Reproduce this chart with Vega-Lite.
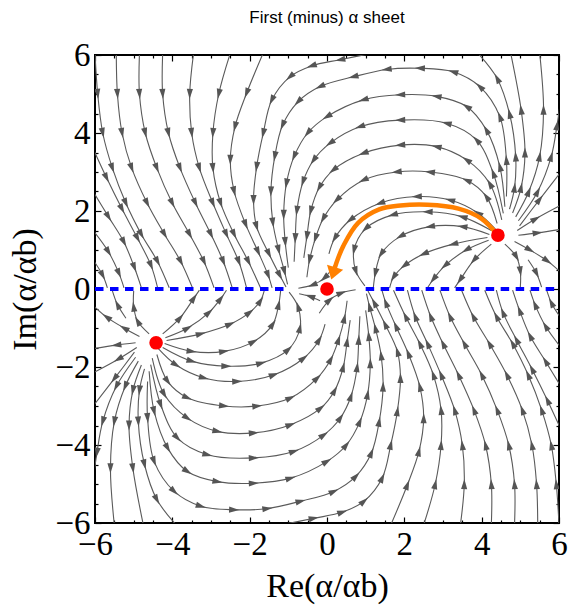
{
  "$schema": "https://vega.github.io/schema/vega-lite/v6.json",
  "width": 464,
  "height": 468,
  "autosize": {"type": "none"},
  "padding": {"left": 95, "top": 55, "right": 15, "bottom": 86},
  "config": {
    "view": {"stroke": "#000000", "strokeWidth": 2},
    "axis": {
      "grid": false, "domain": false,
      "labelFont": "Liberation Serif", "labelFontSize": 33, "labelColor": "#000000",
      "labelOverlap": false, "labelFlush": false,
      "titleFont": "Liberation Serif", "titleFontSize": 34, "titleFontWeight": "normal", "titleColor": "#000000",
      "tickColor": "#000000", "tickWidth": 1.2
    }
  },
  "title": {"text": "First (minus) α sheet", "font": "Liberation Sans", "fontSize": 17, "fontWeight": "normal", "color": "#000000", "offset": 12, "frame": "group", "anchor": "middle"},
  "datasets": {
    "streams": [
      {"id":"S1","xs":[4.25,3.5,2.6,1.7,1.0,0.7,0.75,0.98],"ys":[1.5,1.85,1.98,1.9,1.55,1.0,0.45,0.08]},
      {"id":"S2","xs":[4.2,3.5,2.66,1.9,1.4,1.25,1.2],"ys":[1.4,1.6,1.6,1.35,0.9,0.4,0.05]},
      {"id":"S3","xs":[4.15,3.26,2.5,2.0,1.72,1.62],"ys":[1.32,1.15,0.9,0.6,0.3,0.03]},
      {"id":"S3b","xs":[4.18,3.6,3.05,2.75,2.6],"ys":[1.25,1.0,0.6,0.25,0.03]},
      {"id":"S4","xs":[4.25,3.8,3.44,3.3],"ys":[1.15,0.74,0.23,0.03]},
      {"id":"S5","xs":[4.6,4.9,5.0,5.0],"ys":[1.15,0.82,0.45,0.05]},
      {"id":"S8","xs":[5.2,5.42,5.55],"ys":[0.75,0.4,0.05]},
      {"id":"S7","xs":[4.85,5.25,5.7,6.05],"ys":[1.22,1.0,0.72,0.42]},
      {"id":"S6","xs":[4.95,5.45,6.05],"ys":[1.38,1.44,1.53]},
      {"id":"S9","xs":[4.92,5.4,6.05],"ys":[1.5,1.8,2.15]},
      {"id":"S12","xs":[4.98,5.5,6.05],"ys":[1.62,2.3,3.0]},
      {"id":"S13","xs":[4.95,5.45,5.8,5.95,6.05],"ys":[1.75,2.5,3.4,4.2,4.9]},
      {"id":"S11","xs":[4.88,5.22,5.5,5.6,5.5],"ys":[1.85,2.5,3.4,4.6,6.05]},
      {"id":"S10b","xs":[4.8,5.02,5.12,5.02,4.75],"ys":[1.95,2.6,3.5,4.6,6.05]},
      {"id":"S10","xs":[4.72,4.85,4.88,4.72,4.4,3.9],"ys":[2.05,2.6,3.4,4.5,5.4,6.05]},
      {"id":"P56","xs":[4.64,4.64,4.47,3.95,3.26,2.4,1.54,0.68,-0.18,-0.75,-1.15,-1.35,-1.45,-1.4,-1.25,-1.1,-1.02],"ys":[2.37,3.31,4.42,5.19,5.57,5.66,5.63,5.44,5.19,4.8,4.2,3.4,2.5,1.7,1.0,0.45,0.12]},
      {"id":"P49","xs":[4.6,4.47,4.12,3.61,2.83,1.89,0.94,0.0,-0.5,-0.85,-1.05,-1.12,-1.08,-1.0],"ys":[2.11,3.14,4.08,4.68,4.94,4.98,4.85,4.42,4.0,3.4,2.7,1.9,1.2,0.55]},
      {"id":"P43","xs":[4.56,4.3,3.87,3.09,1.89,0.85,0.08,-0.35,-0.62,-0.78,-0.82,-0.85],"ys":[1.94,2.97,3.82,4.25,4.33,4.16,3.74,3.3,2.75,2.0,1.3,0.7]},
      {"id":"P36","xs":[4.52,4.21,3.61,2.83,1.89,0.94,0.16,-0.2,-0.42,-0.52,-0.6],"ys":[1.77,2.7,3.31,3.65,3.69,3.48,3.05,2.6,2.0,1.35,0.8]},
      {"id":"P30","xs":[4.4,4.12,3.61,2.66,1.8,0.94,0.25,-0.1,-0.3,-0.45,-0.52],"ys":[1.68,2.37,2.79,3.0,3.0,2.79,2.28,1.8,1.3,0.75,0.3]},
      {"id":"A1","xs":[4.38,3.9,3.18,2.32,1.37,0.6,0.2,0.05],"ys":[1.51,1.95,2.28,2.37,2.2,1.77,1.3,0.9]},
      {"id":"TL0","xs":[1.2,0.34,-0.4,-0.96,-1.43,-1.65,-1.82,-1.9,-1.82,-1.5,-1.22,-1.06],"ys":[6.05,5.88,5.72,5.44,4.84,3.99,3.13,2.28,1.6,0.9,0.35,0.05]},
      {"id":"TLg","xs":[-1.65,-2.08,-2.38,-2.5,-2.4,-2.1,-1.78,-1.52,-1.42],"ys":[6.05,5.02,4.16,3.31,2.5,1.65,0.95,0.35,0.03]},
      {"id":"TLf","xs":[-2.5,-2.8,-2.95,-2.95,-2.75,-2.4,-2.03,-1.72],"ys":[6.05,5.0,4.0,3.1,2.2,1.4,0.7,0.03]},
      {"id":"TLe","xs":[-3.45,-3.55,-3.5,-3.3,-2.95,-2.6,-2.28,-2.08],"ys":[6.05,5.0,4.0,3.1,2.2,1.4,0.7,0.03]},
      {"id":"TLd","xs":[-4.25,-4.25,-4.1,-3.8,-3.4,-3.0,-2.68,-2.45],"ys":[6.05,5.0,4.0,3.1,2.2,1.4,0.7,0.03]},
      {"id":"TLc","xs":[-4.85,-4.85,-4.7,-4.4,-4.0,-3.55,-3.18,-2.92],"ys":[6.05,5.0,4.0,3.1,2.2,1.4,0.7,0.03]},
      {"id":"TLb","xs":[-5.45,-5.42,-5.3,-5.05,-4.65,-4.2,-3.78,-3.48],"ys":[6.05,5.0,4.0,3.1,2.2,1.4,0.7,0.03]},
      {"id":"TLa","xs":[-6.0,-5.93,-5.8,-5.55,-5.2,-4.8,-4.38,-4.08],"ys":[6.05,5.0,4.0,3.1,2.2,1.4,0.7,0.03]},
      {"id":"LE0","xs":[-6.05,-5.7,-5.3,-4.9,-4.55,-4.38],"ys":[3.6,2.85,2.05,1.3,0.6,0.03]},
      {"id":"LE1","xs":[-6.05,-5.65,-5.25,-4.98,-4.8],"ys":[2.5,1.85,1.2,0.55,0.03]},
      {"id":"LE2","xs":[-6.05,-5.65,-5.38,-5.25],"ys":[1.5,0.95,0.4,0.03]},
      {"id":"LE3","xs":[-6.05,-5.8,-5.68],"ys":[0.75,0.35,0.03]},
      {"id":"O1","xs":[-0.2,0.07,0.38,0.74],"ys":[-0.62,-0.28,-0.1,-0.02]},
      {"id":"O2","xs":[-0.18,-0.44,-0.72],"ys":[-0.3,-0.19,-0.12]},
      {"id":"O1m","xs":[0.2,-0.07,-0.38,-0.74],"ys":[0.62,0.28,0.1,0.02]},
      {"id":"mS1","xs":[-4.25,-3.5,-2.6,-1.7,-1.0,-0.7,-0.75,-0.98],"ys":[-1.5,-1.85,-1.98,-1.9,-1.55,-1.0,-0.45,-0.08]},
      {"id":"mS2","xs":[-4.2,-3.5,-2.66,-1.9,-1.4,-1.25,-1.2],"ys":[-1.4,-1.6,-1.6,-1.35,-0.9,-0.4,-0.05]},
      {"id":"mS3","xs":[-4.15,-3.26,-2.5,-2.0,-1.72,-1.62],"ys":[-1.32,-1.15,-0.9,-0.6,-0.3,-0.03]},
      {"id":"mS3b","xs":[-4.18,-3.6,-3.05,-2.75,-2.6],"ys":[-1.25,-1.0,-0.6,-0.25,-0.03]},
      {"id":"mS4","xs":[-4.25,-3.8,-3.44,-3.3],"ys":[-1.15,-0.74,-0.23,-0.03]},
      {"id":"mS5","xs":[-4.6,-4.9,-5.0,-5.0],"ys":[-1.15,-0.82,-0.45,-0.05]},
      {"id":"mS8","xs":[-5.2,-5.42,-5.55],"ys":[-0.75,-0.4,-0.05]},
      {"id":"mS7","xs":[-4.85,-5.25,-5.7,-6.05],"ys":[-1.22,-1.0,-0.72,-0.42]},
      {"id":"mS6","xs":[-4.95,-5.45,-6.05],"ys":[-1.38,-1.44,-1.53]},
      {"id":"mS9","xs":[-4.92,-5.4,-6.05],"ys":[-1.5,-1.8,-2.15]},
      {"id":"mS12","xs":[-4.98,-5.5,-6.05],"ys":[-1.62,-2.3,-3.0]},
      {"id":"mS13","xs":[-4.95,-5.45,-5.8,-5.95,-6.05],"ys":[-1.75,-2.5,-3.4,-4.2,-4.9]},
      {"id":"mS11","xs":[-4.88,-5.22,-5.5,-5.6,-5.5],"ys":[-1.85,-2.5,-3.4,-4.6,-6.05]},
      {"id":"mS10b","xs":[-4.8,-5.02,-5.12,-5.02,-4.75],"ys":[-1.95,-2.6,-3.5,-4.6,-6.05]},
      {"id":"mS10","xs":[-4.72,-4.85,-4.88,-4.72,-4.4,-3.9],"ys":[-2.05,-2.6,-3.4,-4.5,-5.4,-6.05]},
      {"id":"mP56","xs":[-4.64,-4.64,-4.47,-3.95,-3.26,-2.4,-1.54,-0.68,0.18,0.75,1.15,1.35,1.45,1.4,1.25,1.1,1.02],"ys":[-2.37,-3.31,-4.42,-5.19,-5.57,-5.66,-5.63,-5.44,-5.19,-4.8,-4.2,-3.4,-2.5,-1.7,-1.0,-0.45,-0.12]},
      {"id":"mP49","xs":[-4.6,-4.47,-4.12,-3.61,-2.83,-1.89,-0.94,0.0,0.5,0.85,1.05,1.12,1.08,1.0],"ys":[-2.11,-3.14,-4.08,-4.68,-4.94,-4.98,-4.85,-4.42,-4.0,-3.4,-2.7,-1.9,-1.2,-0.55]},
      {"id":"mP43","xs":[-4.56,-4.3,-3.87,-3.09,-1.89,-0.85,-0.08,0.35,0.62,0.78,0.82,0.85],"ys":[-1.94,-2.97,-3.82,-4.25,-4.33,-4.16,-3.74,-3.3,-2.75,-2.0,-1.3,-0.7]},
      {"id":"mP36","xs":[-4.52,-4.21,-3.61,-2.83,-1.89,-0.94,-0.16,0.2,0.42,0.52,0.6],"ys":[-1.77,-2.7,-3.31,-3.65,-3.69,-3.48,-3.05,-2.6,-2.0,-1.35,-0.8]},
      {"id":"mP30","xs":[-4.4,-4.12,-3.61,-2.66,-1.8,-0.94,-0.25,0.1,0.3,0.45,0.52],"ys":[-1.68,-2.37,-2.79,-3.0,-3.0,-2.79,-2.28,-1.8,-1.3,-0.75,-0.3]},
      {"id":"mA1","xs":[-4.38,-3.9,-3.18,-2.32,-1.37,-0.6,-0.2,-0.05],"ys":[-1.51,-1.95,-2.28,-2.37,-2.2,-1.77,-1.3,-0.9]},
      {"id":"mTL0","xs":[-1.2,-0.34,0.4,0.96,1.43,1.65,1.82,1.9,1.82,1.5,1.22,1.06],"ys":[-6.05,-5.88,-5.72,-5.44,-4.84,-3.99,-3.13,-2.28,-1.6,-0.9,-0.35,-0.05]},
      {"id":"mTLg","xs":[1.65,2.08,2.38,2.5,2.4,2.1,1.78,1.52,1.42],"ys":[-6.05,-5.02,-4.16,-3.31,-2.5,-1.65,-0.95,-0.35,-0.03]},
      {"id":"mTLf","xs":[2.5,2.8,2.95,2.95,2.75,2.4,2.03,1.72],"ys":[-6.05,-5.0,-4.0,-3.1,-2.2,-1.4,-0.7,-0.03]},
      {"id":"mTLe","xs":[3.45,3.55,3.5,3.3,2.95,2.6,2.28,2.08],"ys":[-6.05,-5.0,-4.0,-3.1,-2.2,-1.4,-0.7,-0.03]},
      {"id":"mTLd","xs":[4.25,4.25,4.1,3.8,3.4,3.0,2.68,2.45],"ys":[-6.05,-5.0,-4.0,-3.1,-2.2,-1.4,-0.7,-0.03]},
      {"id":"mTLc","xs":[4.85,4.85,4.7,4.4,4.0,3.55,3.18,2.92],"ys":[-6.05,-5.0,-4.0,-3.1,-2.2,-1.4,-0.7,-0.03]},
      {"id":"mTLb","xs":[5.45,5.42,5.3,5.05,4.65,4.2,3.78,3.48],"ys":[-6.05,-5.0,-4.0,-3.1,-2.2,-1.4,-0.7,-0.03]},
      {"id":"mTLa","xs":[6.0,5.93,5.8,5.55,5.2,4.8,4.38,4.08],"ys":[-6.05,-5.0,-4.0,-3.1,-2.2,-1.4,-0.7,-0.03]},
      {"id":"mLE0","xs":[6.05,5.7,5.3,4.9,4.55,4.38],"ys":[-3.6,-2.85,-2.05,-1.3,-0.6,-0.03]},
      {"id":"mLE1","xs":[6.05,5.65,5.25,4.98,4.8],"ys":[-2.5,-1.85,-1.2,-0.55,-0.03]},
      {"id":"mLE2","xs":[6.05,5.65,5.38,5.25],"ys":[-1.5,-0.95,-0.4,-0.03]},
      {"id":"mLE3","xs":[6.05,5.8,5.68],"ys":[-0.75,-0.35,-0.03]}
    ],
    "cut": [
      {"seg": "L", "x": -6, "y": 0}, {"seg": "L", "x": -1, "y": 0},
      {"seg": "R", "x": 1, "y": 0}, {"seg": "R", "x": 6, "y": 0}
    ],
    "orange": [
      {"id": "arc", "xs": [4.42,4.0,3.4,2.6,1.9,1.35,0.8,0.42,0.24,0.16], "ys": [1.38,1.8,2.06,2.16,2.14,2.04,1.69,1.1,0.66,0.4]}
    ],
    "dots": [
      {"x": 4.42, "y": 1.38}, {"x": 0, "y": 0}, {"x": -4.42, "y": -1.38}
    ]
  },
  "layer": [
    {
      "data": {"name": "streams"},
      "transform": [
        {"flatten": ["xs", "ys"], "as": ["x", "y"]},
        {"window": [{"op": "row_number", "as": "i"}], "groupby": ["id"]}
      ],
      "mark": {"type": "line", "interpolate": "catmull-rom", "color": "#5a5a5a", "strokeWidth": 1.1, "clip": true},
      "encoding": {
        "x": {"field": "x", "type": "quantitative", "scale": {"domain": [-6, 6], "nice": false},
              "axis": {"orient": "bottom", "values": [-6,-4,-2,0,2,4,6], "ticks": false, "labelPadding": 5, "title": "Re(α/αb)", "titlePadding": 8}},
        "y": {"field": "y", "type": "quantitative", "scale": {"domain": [-6, 6], "nice": false},
              "axis": {"orient": "left", "values": [-6,-4,-2,0,2,4,6], "ticks": false, "labelPadding": 5, "title": "Im(α/αb)", "titlePadding": 12}},
        "detail": {"field": "id"},
        "order": {"field": "i", "type": "quantitative"}
      }
    },
    {
      "data": {"name": "streams"},
      "transform": [
        {"flatten": ["xs", "ys"], "as": ["x", "y"]},
        {"window": [{"op": "row_number", "as": "i"}], "groupby": ["id"]},
        {"window": [
          {"op": "lag", "field": "x", "as": "px"}, {"op": "lag", "field": "y", "as": "py"},
          {"op": "lead", "field": "x", "as": "nx"}, {"op": "lead", "field": "y", "as": "ny"}
        ], "groupby": ["id"], "sort": [{"field": "i"}]},
        {"filter": "datum.px != null && datum.nx != null"},
        {"calculate": "-atan2(datum.ny - datum.py, datum.nx - datum.px) * 180 / PI", "as": "ang"}
      ],
      "mark": {"type": "point", "shape": "M1,0L-1,-0.6L-1,0.6Z", "filled": true, "color": "#555555", "size": 105, "opacity": 1, "clip": true},
      "encoding": {
        "x": {"field": "x", "type": "quantitative", "scale": {"domain": [-6, 6], "nice": false},
              "axis": {"orient": "bottom", "values": [-6,-4,-2,0,2,4,6], "labels": false, "ticks": true, "tickSize": -6, "title": null}},
        "y": {"field": "y", "type": "quantitative", "scale": {"domain": [-6, 6], "nice": false},
              "axis": {"orient": "left", "values": [-6,-4,-2,0,2,4,6], "labels": false, "ticks": true, "tickSize": -6, "title": null}},
        "angle": {"field": "ang", "type": "quantitative", "scale": null}
      }
    },
    {
      "data": {"name": "cut"},
      "mark": {"type": "line", "color": "#0000ff", "strokeWidth": 4, "strokeDash": [8.5, 6.5], "clip": true},
      "encoding": {
        "x": {"field": "x", "type": "quantitative", "scale": {"domain": [-6, 6], "nice": false},
              "axis": {"orient": "bottom", "values": [-5.5,-5,-4.5,-3.5,-3,-2.5,-1.5,-1,-0.5,0.5,1,1.5,2.5,3,3.5,4.5,5,5.5], "labels": false, "ticks": true, "tickSize": -3, "title": null}},
        "y": {"field": "y", "type": "quantitative", "scale": {"domain": [-6, 6], "nice": false},
              "axis": {"orient": "left", "values": [-5.5,-5,-4.5,-3.5,-3,-2.5,-1.5,-1,-0.5,0.5,1,1.5,2.5,3,3.5,4.5,5,5.5], "labels": false, "ticks": true, "tickSize": -3, "title": null}},
        "detail": {"field": "seg"}
      }
    },
    {
      "data": {"name": "orange"},
      "transform": [
        {"flatten": ["xs", "ys"], "as": ["x", "y"]},
        {"window": [{"op": "row_number", "as": "i"}], "groupby": ["id"]}
      ],
      "mark": {"type": "line", "interpolate": "catmull-rom", "color": "#ff8000", "strokeWidth": 4.5},
      "encoding": {
        "x": {"field": "x", "type": "quantitative", "scale": {"domain": [-6, 6], "nice": false},
              "axis": {"orient": "top", "values": [-6,-4,-2,0,2,4,6], "labels": false, "ticks": true, "tickSize": -6, "title": null}},
        "y": {"field": "y", "type": "quantitative", "scale": {"domain": [-6, 6], "nice": false},
              "axis": {"orient": "right", "values": [-6,-4,-2,0,2,4,6], "labels": false, "ticks": true, "tickSize": -6, "title": null}},
        "order": {"field": "i", "type": "quantitative"}
      }
    },
    {
      "data": {"name": "orange"},
      "transform": [
        {"flatten": ["xs", "ys"], "as": ["x", "y"]},
        {"window": [{"op": "row_number", "as": "i"}], "groupby": ["id"]},
        {"window": [
          {"op": "lag", "field": "x", "as": "px"}, {"op": "lag", "field": "y", "as": "py"},
          {"op": "lead", "field": "x", "as": "nx"}
        ], "groupby": ["id"], "sort": [{"field": "i"}]},
        {"filter": "datum.nx == null"},
        {"calculate": "-atan2(datum.y - datum.py, datum.x - datum.px) * 180 / PI", "as": "ang"}
      ],
      "mark": {"type": "point", "shape": "M1,0L-1,-1.3L-1,1.3Z", "filled": true, "color": "#ff8000", "size": 169, "opacity": 1},
      "encoding": {
        "x": {"field": "x", "type": "quantitative", "scale": {"domain": [-6, 6], "nice": false},
              "axis": {"orient": "top", "values": [-5.5,-5,-4.5,-3.5,-3,-2.5,-1.5,-1,-0.5,0.5,1,1.5,2.5,3,3.5,4.5,5,5.5], "labels": false, "ticks": true, "tickSize": -3, "title": null}},
        "y": {"field": "y", "type": "quantitative", "scale": {"domain": [-6, 6], "nice": false},
              "axis": {"orient": "right", "values": [-5.5,-5,-4.5,-3.5,-3,-2.5,-1.5,-1,-0.5,0.5,1,1.5,2.5,3,3.5,4.5,5,5.5], "labels": false, "ticks": true, "tickSize": -3, "title": null}},
        "angle": {"field": "ang", "type": "quantitative", "scale": null}
      }
    },
    {
      "data": {"name": "dots"},
      "mark": {"type": "point", "shape": "circle", "filled": true, "color": "#ff0000", "size": 185, "opacity": 1},
      "encoding": {
        "x": {"field": "x", "type": "quantitative", "scale": {"domain": [-6, 6], "nice": false}, "axis": null},
        "y": {"field": "y", "type": "quantitative", "scale": {"domain": [-6, 6], "nice": false}, "axis": null}
      }
    }
  ],
  "resolve": {"axis": {"x": "independent", "y": "independent"}}
}
